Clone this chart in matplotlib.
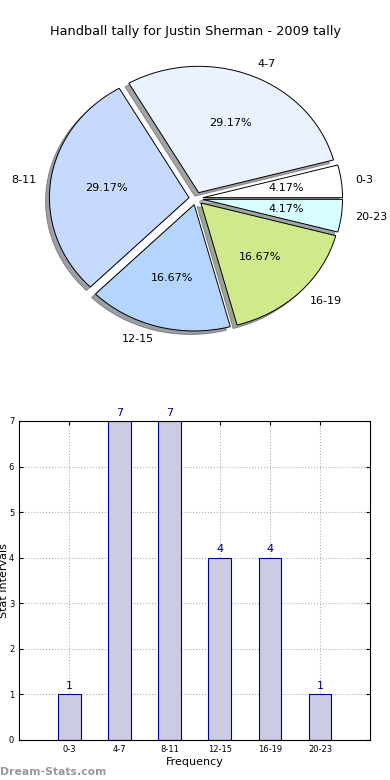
import matplotlib
matplotlib.use('Agg')
import matplotlib.pyplot as plt
import numpy as np

# data
labels = ['0-3', '4-7', '8-11', '12-15', '16-19', '20-23']
counts = [1, 7, 7, 4, 4, 1]
pie_colors = ['#ffffff', '#eaf2ff', '#c6d9ff', '#b4d5ff', '#cfe98b', '#d8ffff']

fig = plt.figure(figsize=(3.9, 7.8), dpi=100)

# pie
ax1 = fig.add_axes([0.055, 0.543, 0.895, 0.405])
ax1.pie(counts, labels=labels, colors=pie_colors, explode=[0.05] * len(counts),
        autopct='%1.2f%%', shadow=True, startangle=0,
        wedgeprops={'edgecolor': 'black', 'linewidth': 0.7},
        textprops={'fontsize': 8})
ax1.set_aspect('auto')
ax1.set_xlim(-1.25, 1.25)
ax1.set_ylim(-1.25, 1.25)
ax1.set_title('Handball tally for Justin Sherman - 2009 tally', fontsize=9.3, pad=4)

# bars
ax2 = fig.add_axes([0.049, 0.0513, 0.9, 0.409])
x = np.arange(len(labels))
ax2.bar(x, counts, width=0.45, color='#cbcbe3', edgecolor='#000099', linewidth=0.8, zorder=2)
for xi, c in zip(x, counts):
    ax2.text(xi, c + 0.07, str(c), ha='center', va='bottom', color='#000080', fontsize=8)
ax2.set_xlim(-1, 6)
ax2.set_ylim(0, 7)
ax2.set_xticks(x)
ax2.set_xticklabels(labels)
ax2.set_yticks(range(8))
ax2.tick_params(labelsize=6, direction='in', top=True, right=True, length=3)
ax2.grid(True, linestyle=':', color='#b0b0b0', linewidth=0.8, zorder=0)
ax2.set_axisbelow(True)
ax2.set_xlabel('Frequency', fontsize=8, labelpad=2)
ax2.set_ylabel('Stat Intervals', fontsize=8)
ax2.yaxis.set_label_coords(-0.028, 0.5)

fig.text(0.0, 0.006, 'Dream-Stats.com', color='#999999', fontsize=7.8, fontweight='bold')

fig.savefig('out.png', dpi=100)
